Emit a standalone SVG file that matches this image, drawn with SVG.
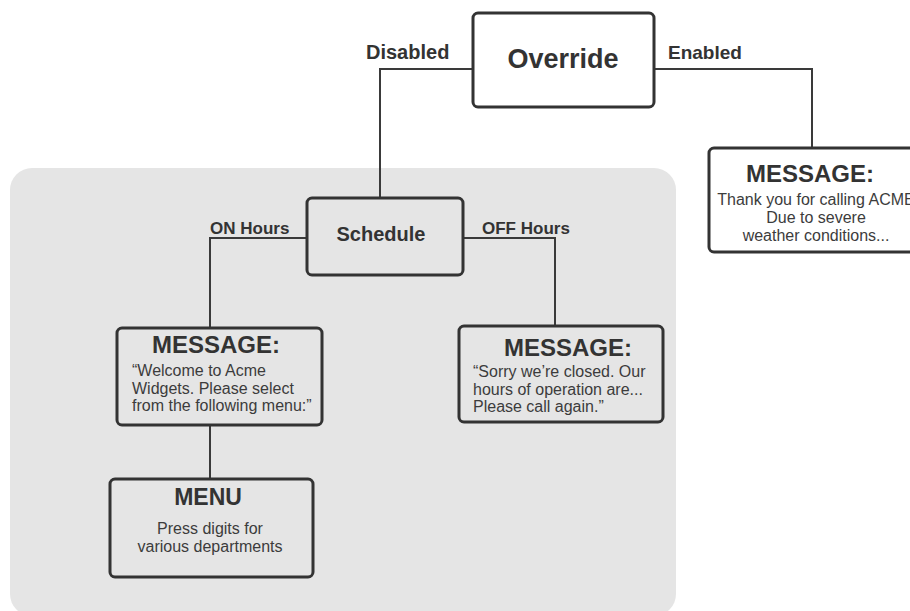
<svg xmlns="http://www.w3.org/2000/svg" width="910" height="611" viewBox="0 0 910 611">
  <style>
    .box { stroke: #333; stroke-width: 3; }
    .white { fill: #fff; }
    .clear { fill: none; }
    .wire { fill: none; stroke: #3a3a3a; stroke-width: 2; }
    text { font-family: "Liberation Sans", Arial, sans-serif; fill: #333; }
    .title { font-weight: bold; text-anchor: middle; }
    .label { font-weight: bold; font-size: 17px; }
    .body { font-size: 16px; fill: #3c3c3c; }
    .mid { text-anchor: middle; }
  </style>

  <rect width="910" height="611" fill="#fff"/>

  <!-- shaded region holding the schedule branch -->
  <rect id="schedule-area" x="10" y="168" width="666" height="448" rx="22" ry="22" fill="#e5e5e5"/>

  <!-- connectors -->
  <g id="connectors">
    <polyline class="wire" points="473,69 380,69 380,198"/>
    <polyline class="wire" points="654,69 812,69 812,148"/>
    <polyline class="wire" points="307,238 210,238 210,328"/>
    <polyline class="wire" points="463,238 555,238 555,326"/>
    <line class="wire" x1="210" y1="425" x2="210" y2="479"/>
  </g>

  <!-- branch labels -->
  <g id="labels">
    <text class="label" x="366" y="59" style="font-size:20px">Disabled</text>
    <text class="label" x="668" y="59" style="font-size:19px">Enabled</text>
    <text class="label" x="210" y="234">ON Hours</text>
    <text class="label" x="482" y="234">OFF Hours</text>
  </g>

  <g id="override">
    <rect class="box white" x="473" y="13" width="181" height="94" rx="5"/>
    <text class="title" x="563" y="68" font-size="27">Override</text>
  </g>

  <g id="message-enabled">
    <rect class="box white" x="709" y="148" width="230" height="104" rx="5"/>
    <text class="title" x="810" y="182" font-size="24">MESSAGE:</text>
    <text class="body mid" x="816" y="205">Thank you for calling ACME</text>
    <text class="body mid" x="816" y="223">Due to severe</text>
    <text class="body mid" x="816" y="241">weather conditions...</text>
  </g>

  <g id="schedule">
    <rect class="box clear" x="307" y="198" width="156" height="77" rx="5"/>
    <text class="title" x="381" y="241" font-size="20">Schedule</text>
  </g>

  <g id="message-on">
    <rect class="box clear" x="117" y="328" width="205" height="97" rx="5"/>
    <text class="title" x="216" y="353" font-size="24">MESSAGE:</text>
    <text class="body" x="132" y="376">“Welcome to Acme</text>
    <text class="body" x="132" y="393.5">Widgets. Please select</text>
    <text class="body" x="132" y="411">from the following menu:”</text>
  </g>

  <g id="message-off">
    <rect class="box clear" x="459" y="326" width="204" height="96" rx="5"/>
    <text class="title" x="568" y="356" font-size="24">MESSAGE:</text>
    <text class="body" x="473" y="377">“Sorry we’re closed. Our</text>
    <text class="body" x="473" y="394.5">hours of operation are...</text>
    <text class="body" x="473" y="412">Please call again.”</text>
  </g>

  <g id="menu">
    <rect class="box clear" x="110" y="479" width="203" height="98" rx="5"/>
    <text class="title" x="208" y="505" font-size="23">MENU</text>
    <text class="body mid" x="210" y="534">Press digits for</text>
    <text class="body mid" x="210" y="552">various departments</text>
  </g>
</svg>
